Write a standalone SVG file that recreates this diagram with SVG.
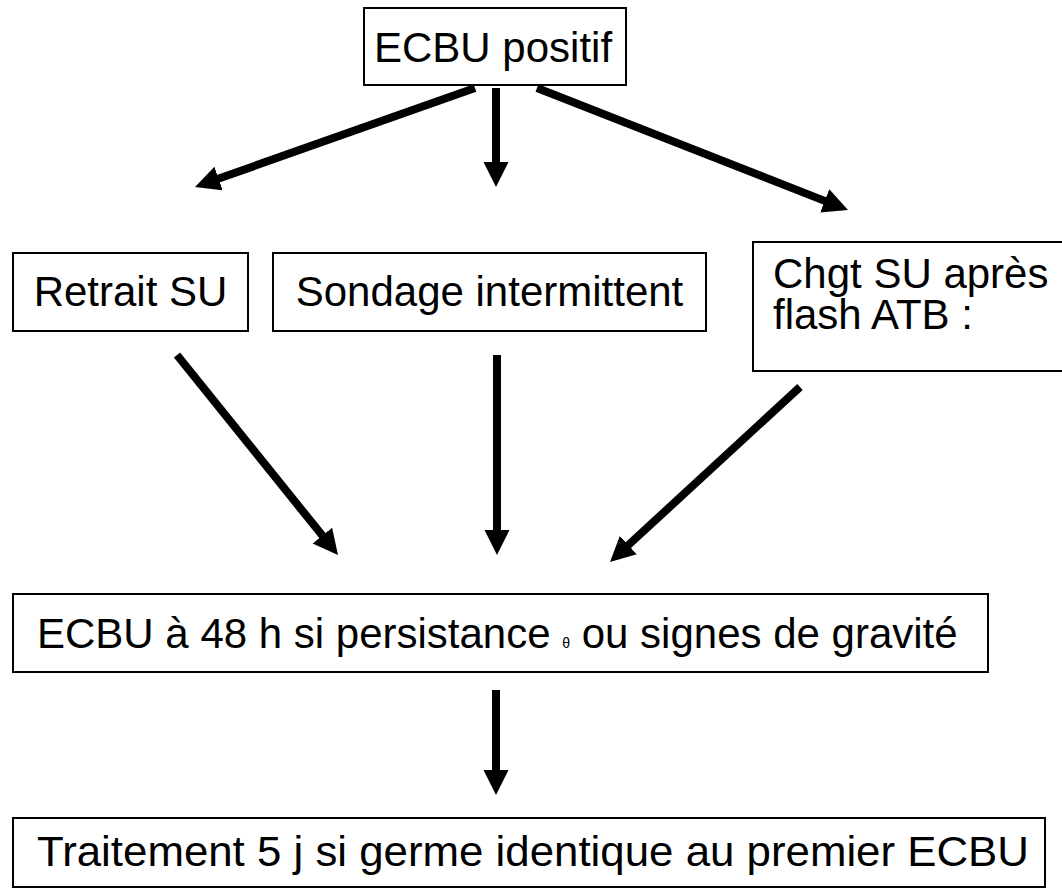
<svg xmlns="http://www.w3.org/2000/svg" width="1062" height="890" viewBox="0 0 1062 890">
<style>
.box{fill:#fff;stroke:#000;stroke-width:2}
.t{font-family:"Liberation Sans",Arial,sans-serif;font-size:42px;fill:#000}
.c{stroke:#000;stroke-width:8;fill:none;marker-end:url(#ah)}
</style>
<defs>
<marker id="ah" markerUnits="userSpaceOnUse" markerWidth="26" markerHeight="26" refX="2" refY="12.5" orient="auto">
<path d="M0,0 L25,12.5 L0,25 z" fill="#000"/>
</marker>
</defs>
<rect width="1062" height="890" fill="#fff"/>
<g id="n1">
<rect class="box" x="364" y="8" width="262" height="77"/>
<text class="t" x="374" y="62">ECBU positif</text>
</g>
<g id="n2">
<rect class="box" x="13" y="253" width="235" height="78"/>
<text class="t" x="130.5" y="306" text-anchor="middle">Retrait SU</text>
</g>
<g id="n3">
<rect class="box" x="273" y="253" width="433" height="78"/>
<text class="t" x="489.5" y="306" text-anchor="middle">Sondage intermittent</text>
</g>
<g id="n4">
<rect class="box" x="753" y="242" width="330" height="129"/>
<text class="t" x="773" y="288">Chgt SU après</text>
<text class="t" x="773" y="329">flash ATB :</text>
</g>
<g id="n5">
<rect class="box" x="13" y="594" width="975" height="78"/>
<text class="t" x="37" y="648" font-size="42.5">ECBU à 48 h si persistance <tspan font-size="14">θ</tspan> ou signes de gravité</text>
</g>
<g id="n6">
<rect class="box" x="13" y="818" width="1032" height="69"/>
<text class="t" x="37" y="866" font-size="46" textLength="992" lengthAdjust="spacingAndGlyphs">Traitement 5 j si germe identique au premier ECBU</text>
</g>
<g id="connectors">
<line class="c" x1="475" y1="88" x2="216.7" y2="179.3"/>
<line class="c" x1="496" y1="88" x2="496" y2="164"/>
<line class="c" x1="537" y1="88" x2="826.6" y2="201.6"/>
<line class="c" x1="177" y1="355" x2="323.6" y2="537.1"/>
<line class="c" x1="497" y1="355" x2="497" y2="532"/>
<line class="c" x1="800" y1="387" x2="626.9" y2="546.4"/>
<line class="c" x1="496" y1="690" x2="496" y2="772"/>
</g>
</svg>
